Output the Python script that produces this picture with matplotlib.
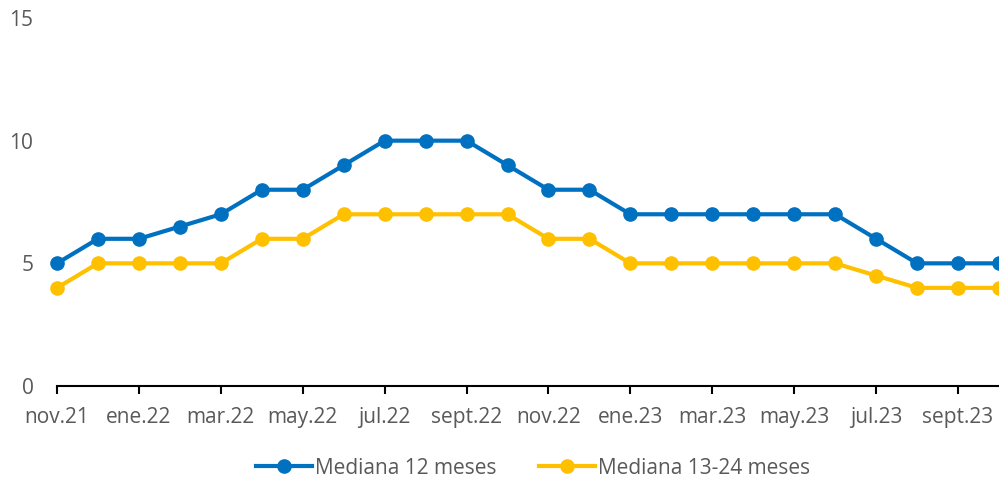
import matplotlib.pyplot as plt

plt.rcParams['font.family'] = ['Open Sans', 'DejaVu Sans']

months = ['nov.21', 'dic.21', 'ene.22', 'feb.22', 'mar.22', 'abr.22', 'may.22', 'jun.22',
          'jul.22', 'ago.22', 'sept.22', 'oct.22', 'nov.22', 'dic.22', 'ene.23', 'feb.23',
          'mar.23', 'abr.23', 'may.23', 'jun.23', 'jul.23', 'ago.23', 'sept.23', 'oct.23']
mediana_12 = [5, 6, 6, 6.5, 7, 8, 8, 9, 10, 10, 10, 9, 8, 8, 7, 7, 7, 7, 7, 7, 6, 5, 5, 5]
mediana_13_24 = [4, 5, 5, 5, 5, 6, 6, 7, 7, 7, 7, 7, 6, 6, 5, 5, 5, 5, 5, 5, 4.5, 4, 4, 4]

blue = '#0070C0'
yellow = '#FFC000'
grey = '#595959'

fig = plt.figure(figsize=(9.99, 4.83), dpi=100)
ax = fig.add_axes([57 / 999, (483 - 386) / 483, (999 - 57) / 999, (386 - 18) / 483])

x = list(range(len(months)))
ax.plot(x, mediana_12, color=blue, lw=3, marker='o', ms=9.5, label='Mediana 12 meses',
        clip_on=False, zorder=3)
ax.plot(x, mediana_13_24, color=yellow, lw=3, marker='o', ms=9.5, label='Mediana 13-24 meses',
        clip_on=False, zorder=3)

ax.set_xlim(0, len(months) - 1)
ax.set_ylim(0, 15)
ax.set_yticks([0, 5, 10, 15])
ax.set_xticks(x[::2])
ax.set_xticklabels(months[::2])

for side in ['top', 'right', 'left']:
    ax.spines[side].set_visible(False)
ax.spines['bottom'].set_linewidth(1.5)
ax.spines['bottom'].set_color('black')

ax.tick_params(axis='y', length=0, pad=17, labelsize=15, labelcolor=grey)
ax.tick_params(axis='x', length=6, width=1.5, color='black', pad=9, labelsize=15,
               labelcolor=grey)

fig.legend(loc='center', bbox_to_anchor=(533 / 999, (483 - 468) / 483), ncol=2, frameon=False,
           fontsize=15, labelcolor=grey, handlelength=2.7, columnspacing=2.0, handletextpad=0.15)

fig.savefig('out.png', dpi=100)
